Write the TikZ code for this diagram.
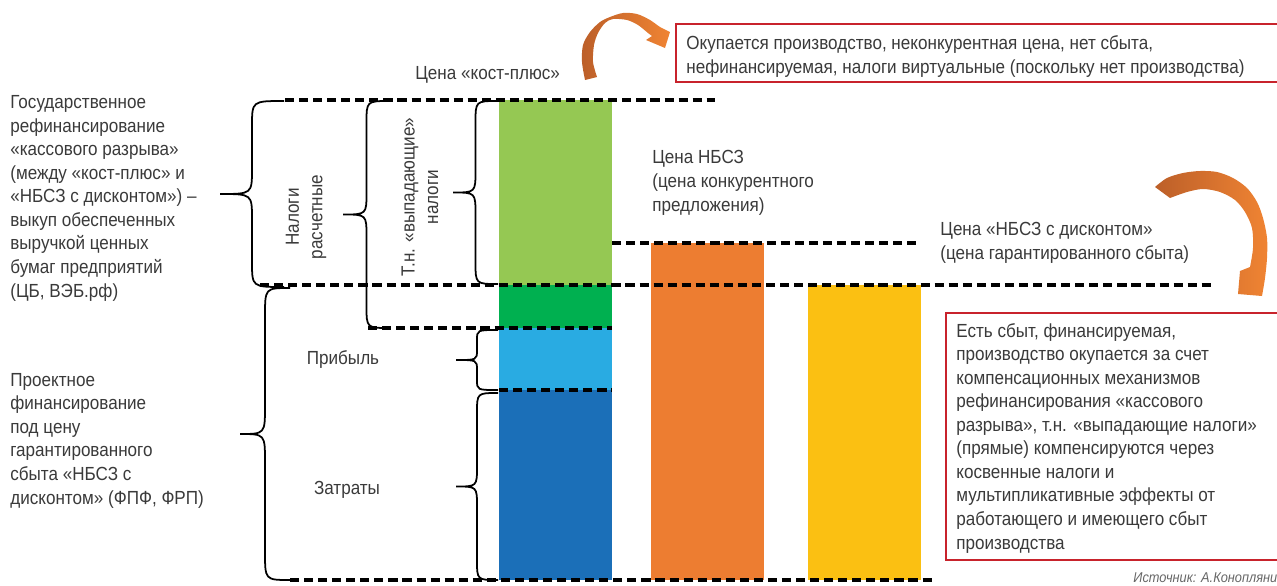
\documentclass[tikz,border=0pt]{standalone}
\usepackage{fontspec}
\setmainfont{Liberation Sans}[FakeStretch=0.9]
\definecolor{lgreen}{HTML}{95C853}
\definecolor{dgreen}{HTML}{00B050}
\definecolor{lblue}{HTML}{29ABE2}
\definecolor{dblue}{HTML}{1B6FB8}
\definecolor{barOrange}{HTML}{ED7D31}
\definecolor{barYellow}{HTML}{FBC012}
\definecolor{ordark}{HTML}{BC5F29}
\definecolor{orlight}{HTML}{F08433}
\definecolor{boxred}{HTML}{C8232C}
\definecolor{txtgray}{HTML}{3A3A3A}
\tikzset{
	cut/.style={line width=1.8pt, dash pattern=on 5.2pt off 2.8pt},
	curly/.style={line width=1pt},
	lbl/.style={inner sep=0pt, text=txtgray, align=left, font=\fontsize{10.8}{13.4}\selectfont},
	redbox/.style={draw=boxred, line width=1.6pt},
}
\begin{document}
\begin{tikzpicture}[x=0.02cm, y=-0.02cm]
	\useasboundingbox (0,0) rectangle (1277,585);
	\clip (0,0) rectangle (1277,585);
	% bars
	\fill[lgreen] (499,100) rectangle (612,285);
	\fill[dgreen] (499,285) rectangle (612,328);
	\fill[lblue] (499,328) rectangle (612,390);
	\fill[dblue] (499,390) rectangle (612,580);
	\fill[barOrange] (651,243) rectangle (764,580);
	\fill[barYellow] (808,285) rectangle (921,580);
	% price levels
	\draw[cut] (285,100) -- (715,100);
	\draw[cut] (612,243) -- (917,243);
	\draw[cut] (260,285) -- (1212,285);
	\draw[cut] (368,328) -- (612,328);
	\draw[cut] (499,390) -- (612,390);
	\draw[cut] (290,580) -- (935,580);
	% braces: right x / tip x / top / bottom / curl
	\foreach \xr/\xt/\ya/\yb/\r in {284/220/101/287/25, 290/240/288/580/28, 390/343/101/328/22, 498/453/101/284/22, 498/456/330/390/10, 498/456/393/580/20}
		\draw[curly] (\xr,\ya) .. controls ({(\xr+\xt)/2},\ya) .. ({(\xr+\xt)/2},\ya+\r)
			-- ({(\xr+\xt)/2},{(\ya+\yb)/2-\r}) .. controls ({(\xr+\xt)/2},{(\ya+\yb)/2}) .. (\xt,{(\ya+\yb)/2})
			.. controls ({(\xr+\xt)/2},{(\ya+\yb)/2}) .. ({(\xr+\xt)/2},{(\ya+\yb)/2+\r})
			-- ({(\xr+\xt)/2},\yb-\r) .. controls ({(\xr+\xt)/2},\yb) .. (\xr,\yb);
	% labels (anchored at the last line)
	\node[lbl, anchor=base west] (gosref) at (10,297) {Государственное\\рефинансирование\\«кассового разрыва»\\(между «кост-плюс» и\\«НБСЗ с дисконтом») –\\выкуп обеспеченных\\выручкой ценных\\бумаг предприятий\\(ЦБ, ВЭБ.рф)};
	\node[lbl, anchor=base west] (projfin) at (10,504) {Проектное\\финансирование\\под цену\\гарантированного\\сбыта «НБСЗ с\\дисконтом» (ФПФ, ФРП)};
	\node[lbl, rotate=90, align=center] (nalrasch) at (306,217) {Налоги\\расчетные};
	\node[lbl, rotate=90, align=center] (vypad) at (420,197) {Т.н. «выпадающие»\\налоги};
	\node[lbl] (pribyl) at (343,360) {Прибыль};
	\node[lbl] (zatraty) at (347,490) {Затраты};
	\node[lbl, anchor=base west] (kostplus) at (415,79) {Цена «кост-плюс»};
	\node[lbl, anchor=base west] (nbsz) at (652,211) {Цена НБСЗ\\(цена конкурентного\\предложения)};
	\node[lbl, anchor=base west] (nbszdisc) at (940,259) {Цена «НБСЗ с дисконтом»\\(цена гарантированного сбыта)};
	% notes
	\draw[redbox] (676,24) rectangle (1300,82);
	\node[lbl, anchor=base west] (okup) at (686,73) {Окупается производство, неконкурентная цена, нет сбыта,\\нефинансируемая, налоги виртуальные (поскольку нет производства)};
	\draw[redbox] (946,313) rectangle (1300,560);
	\node[lbl, anchor=base west] (estsbyt) at (956,549) {Есть сбыт, финансируемая,\\производство окупается за счет\\компенсационных механизмов\\рефинансирования «кассового\\разрыва», т.н. «выпадающие налоги»\\(прямые) компенсируются через\\косвенные налоги и\\мультипликативные эффекты от\\работающего и имеющего сбыт\\производства};
	\node[lbl, anchor=base west, font=\fontsize{8.1}{10}\selectfont\itshape, text=black!60] (source) at (1133,582) {Источник: А.Конопляник};
	% curved arrows
	\shade[left color=ordark, right color=orlight] plot[smooth] coordinates {(585,80) (582,62) (583,45) (590,32) (600,22) (610,17) (623,13) (637,14) (650,20) (660,27) (670,32)}
		-- (665,48) -- (646,40) -- plot[smooth] coordinates {(652,36) (648,33) (638,25) (627,20) (613,19) (605,23) (598,33) (594,45) (593,62) (597,77)} -- cycle;
	\shade[left color=ordark, right color=orlight] plot[smooth] coordinates {(1155,187) (1167,178) (1183,173) (1200,171) (1217,172) (1233,178) (1247,188) (1257,202) (1263,218) (1267,238) (1267,258) (1265,278) (1262,296)}
		-- (1238,294) -- (1240,271) -- plot[smooth] coordinates {(1250,267) (1253,248) (1252,228) (1245,212) (1235,200) (1220,192) (1203,189) (1187,192) (1170,198)} -- cycle;
\end{tikzpicture}
\end{document}
